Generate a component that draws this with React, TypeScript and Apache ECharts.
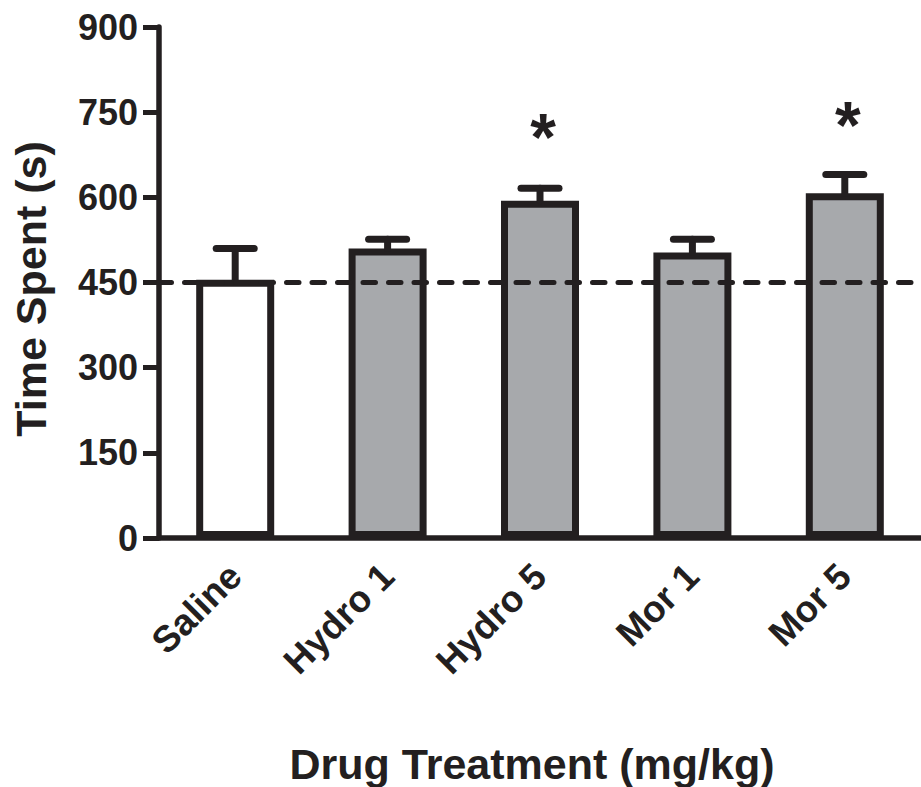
import React, { useEffect, useRef } from "react";
import * as echarts from "echarts";

const categories = ["Saline", "Hydro 1", "Hydro 5", "Mor 1", "Mor 5"];
const means = [455, 510, 594, 503, 607];
const upperErrors = [510, 526, 616, 526, 640];
const asteriskMarks: [number, number][] = [
  [2, 706],
  [4, 727],
];
const yTicks = [0, 150, 300, 450, 600, 750, 900];
const referenceLine = 450;
const yTitle = "Time Spent (s)";
const xTitle = "Drug Treatment (mg/kg)";

const INK = "#231f20";
const GRAY = "#a7a9ac";
const FONT = "'Liberation Sans', Arial, Helvetica, sans-serif";

export default function App() {
  const ref = useRef<HTMLDivElement>(null);

  useEffect(() => {
    if (!ref.current) return;
    const chart = echarts.init(ref.current, undefined, { renderer: "svg" });

    const barData = means.map((v, i) => ({
      value: v,
      itemStyle: { color: i === 0 ? "#ffffff" : GRAY },
    }));

    const errData = means.map((m, i) => [i, m, upperErrors[i]]);

    chart.setOption({
      animation: false,
      backgroundColor: "#ffffff",
      grid: { left: 159, top: 27, width: 765, height: 511, containLabel: false },
      xAxis: {
        type: "category",
        data: categories,
        axisLine: { show: true, lineStyle: { color: INK, width: 5.5 } },
        axisTick: { show: false },
        axisLabel: {
          rotate: 45,
          margin: 32,
          color: INK,
          fontFamily: FONT,
          fontWeight: "bold",
          fontSize: 37,
          interval: 0,
        },
        splitLine: { show: false },
      },
      yAxis: {
        type: "value",
        min: yTicks[0],
        max: yTicks[yTicks.length - 1],
        interval: 150,
        axisLine: { show: true, lineStyle: { color: INK, width: 5.5 } },
        axisTick: { show: true, length: 16, lineStyle: { color: INK, width: 5 } },
        axisLabel: {
          margin: 21,
          color: INK,
          fontFamily: FONT,
          fontWeight: "bold",
          fontSize: 36,
        },
        splitLine: { show: false },
      },
      graphic: [
        {
          type: "text",
          x: 532,
          y: 764,
          style: {
            text: xTitle,
            fill: INK,
            font: `bold 43px ${FONT}`,
            textAlign: "center",
            textVerticalAlign: "middle",
          },
        },
        {
          type: "text",
          x: 31,
          y: 289,
          rotation: Math.PI / 2,
          style: {
            text: yTitle,
            fill: INK,
            font: `bold 43px ${FONT}`,
            textAlign: "center",
            textVerticalAlign: "middle",
          },
        },
      ],
      series: [
        {
          type: "bar",
          data: barData,
          barWidth: 78,
          z: 2,
          itemStyle: { borderColor: INK, borderWidth: 7 },
        },
        {
          type: "custom",
          z: 5,
          data: errData,
          renderItem: (params: any, api: any) => {
            const i = api.value(0);
            const top = api.coord([i, api.value(2)]);
            const base = api.coord([i, api.value(1)]);
            const half = 19;
            const style = { stroke: INK, lineWidth: 7, lineCap: "round" };
            return {
              type: "group",
              children: [
                {
                  type: "line",
                  shape: { x1: top[0], y1: base[1], x2: top[0], y2: top[1] },
                  style,
                },
                {
                  type: "line",
                  shape: { x1: top[0] - half, y1: top[1], x2: top[0] + half, y2: top[1] },
                  style,
                },
              ],
            };
          },
          markLine: {
            silent: true,
            symbol: "none",
            z: 10,
            label: { show: false },
            lineStyle: { color: INK, width: 5, type: [12.5, 13], cap: "round" },
            data: [{ yAxis: referenceLine }],
          },
        },
        {
          type: "custom",
          z: 6,
          data: asteriskMarks,
          renderItem: (params: any, api: any) => {
            const p = api.coord([api.value(0), api.value(1)]);
            return {
              type: "text",
              x: p[0] + 3,
              y: p[1],
              style: {
                text: "*",
                fill: INK,
                font: `bold 66px ${FONT}`,
                textAlign: "center",
                textVerticalAlign: "middle",
              },
            };
          },
        },
      ],
    });

    return () => chart.dispose();
  }, []);

  return (
    <div
      ref={ref}
      style={{ position: "absolute", left: 0, top: 0, width: 921, height: 787 }}
    />
  );
}
